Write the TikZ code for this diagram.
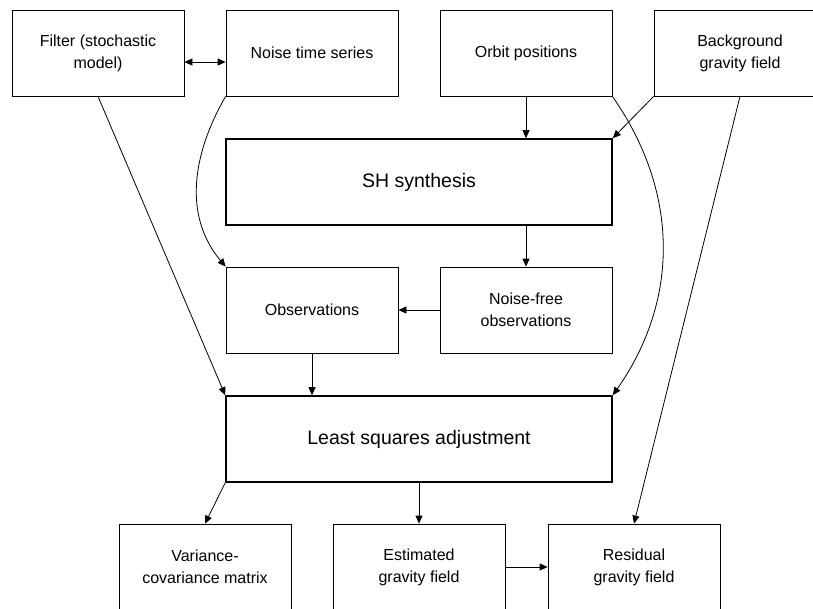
\documentclass[tikz,border=0pt]{standalone}
\usepackage{fontspec}
\setmainfont{Liberation Sans}
\usetikzlibrary{arrows.meta}
\tikzset{
box/.style={draw, line width=0.8pt, minimum width=172pt, minimum height=86pt,
  inner sep=0pt, align=center, font=\fontsize{16}{22}\selectfont},
bigbox/.style={draw, line width=1.6pt, minimum width=386pt, minimum height=86pt,
  inner sep=0pt, align=center, font=\fontsize{19.5}{24}\selectfont},
link/.style={line width=0.8pt, -{Triangle[length=8pt,width=7pt]}},
both/.style={line width=0.8pt, {Triangle[length=8pt,width=7pt]}-{Triangle[length=8pt,width=7pt]}}
}
\begin{document}
\begin{tikzpicture}[x=1pt, y=1pt]
\useasboundingbox (0,0) rectangle (813,-608);
\clip (0,0) rectangle (813,-608);
% inputs
\node[box] (filt) at (98,-53) {Filter (stochastic\\model)};
\node[box] (noise) at (312,-53) {Noise time series};
\node[box] (orbit) at (526,-53) {Orbit positions};
\node[box] (bgf) at (740,-53) {Background\\gravity field};
% processing
\node[bigbox] (sh) at (419,-182) {SH synthesis};
\node[box] (obs) at (312,-310) {Observations};
\node[box] (nff) at (526,-310) {Noise-free\\observations};
\node[bigbox] (lsa) at (419,-439) {Least squares adjustment};
% results
\node[box] (vcm) at (205,-567) {Variance-\\covariance matrix};
\node[box] (est) at (419,-567) {Estimated\\gravity field};
\node[box] (res) at (634,-567) {Residual\\gravity field};

\draw[both] ([yshift=-9pt]filt.east) -- ([yshift=-9pt]noise.west);
\draw[link] (filt.south) -- (lsa.north west);
\draw[link] (noise.south west) to[out=-120,in=130] (obs.north west);
\draw[link] (orbit.south) -- (orbit.south |- sh.north);
\draw[link] (bgf.south west) -- (sh.north east);
\draw[link] (orbit.south east) to[out=-55,in=55] (lsa.north east);
\draw[link] (bgf.south) -- (res.north);
\draw[link] (sh.south -| nff.north) -- (nff.north);
\draw[link] (nff.west) -- (obs.east);
\draw[link] (obs.south) -- (obs.south |- lsa.north);
\draw[link] (lsa.south west) -- (vcm.north);
\draw[link] (lsa.south) -- (est.north);
\draw[link] (est.east) -- (res.west);
\end{tikzpicture}
\end{document}
